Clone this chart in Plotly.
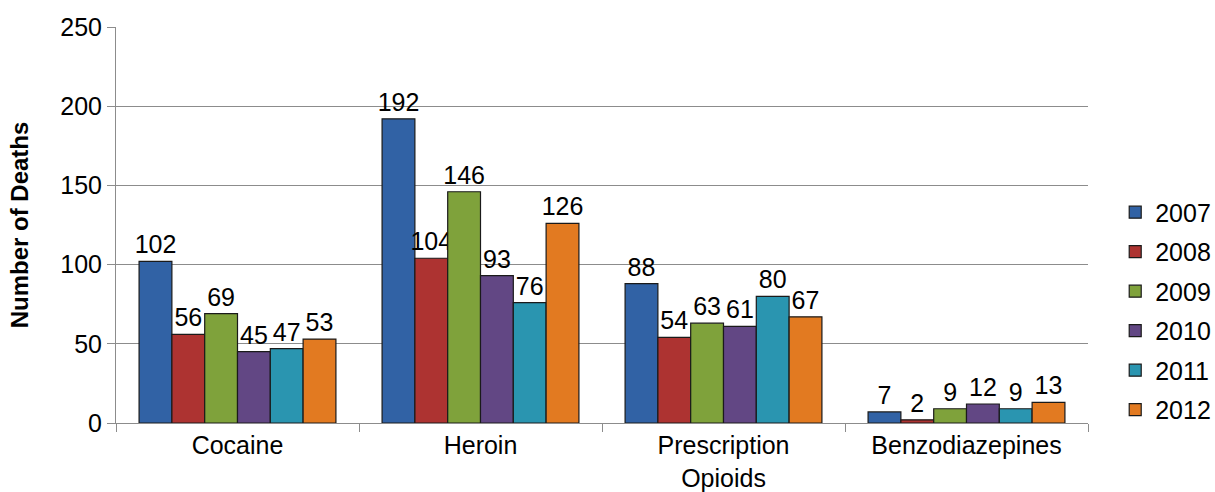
import plotly.graph_objects as go

drugs = ["Cocaine", "Heroin", "Prescription<br>Opioids", "Benzodiazepines"]
years = ["2007", "2008", "2009", "2010", "2011", "2012"]

deaths_2007 = [102, 192, 88, 7]
deaths_2008 = [56, 104, 54, 2]
deaths_2009 = [69, 146, 63, 9]
deaths_2010 = [45, 93, 61, 12]
deaths_2011 = [47, 76, 80, 9]
deaths_2012 = [53, 126, 67, 13]

series = [deaths_2007, deaths_2008, deaths_2009, deaths_2010, deaths_2011, deaths_2012]
colors = ["#3162A5", "#AD3331", "#7FA23B", "#624784", "#2A95B0", "#E27A21"]

font = "Liberation Sans, Arial, sans-serif"

fig = go.Figure()
for i, (year, vals) in enumerate(zip(years, series)):
    fig.add_trace(go.Bar(
        name=year,
        x=drugs,
        y=vals,
        text=vals,
        textposition="outside",
        constraintext="none",
        textfont=dict(size=25, color="black", family=font),
        cliponaxis=False,
        marker=dict(color=colors[i], line=dict(color="#1a1a1a", width=1.2)),
        legendgroup=year,
    ))

fig.update_layout(
    barmode="group",
    bargap=0.19,
    bargroupgap=0,
    width=1215,
    height=492,
    margin=dict(l=116, r=127, t=27, b=69, autoexpand=False),
    plot_bgcolor="white",
    paper_bgcolor="white",
    font=dict(family=font, size=25, color="black"),
    legend=dict(
        x=1.028, xanchor="left",
        y=0.283, yanchor="middle",
        font=dict(size=25),
        tracegroupgap=4,
        traceorder="grouped",
        itemwidth=30,
    ),
)

fig.update_yaxes(
    range=[0, 250],
    dtick=50,
    showgrid=True,
    gridcolor="#8c8c8c",
    gridwidth=1,
    showline=True,
    linecolor="#8c8c8c",
    ticks="outside",
    ticklen=8,
    tickcolor="#8c8c8c",
    tickfont=dict(size=25),
    title=dict(text="<b>Number of Deaths</b>", font=dict(size=24), standoff=24),
    zeroline=False,
    automargin=False,
)

fig.update_xaxes(
    showline=True,
    linecolor="#8c8c8c",
    ticks="outside",
    tickson="boundaries",
    ticklen=8,
    tickcolor="#8c8c8c",
    tickfont=dict(size=25),
    automargin=False,
)

fig.write_html(
    "out.html",
    config={"displayModeBar": False},
    post_script="document.body.style.margin='0';",
)
